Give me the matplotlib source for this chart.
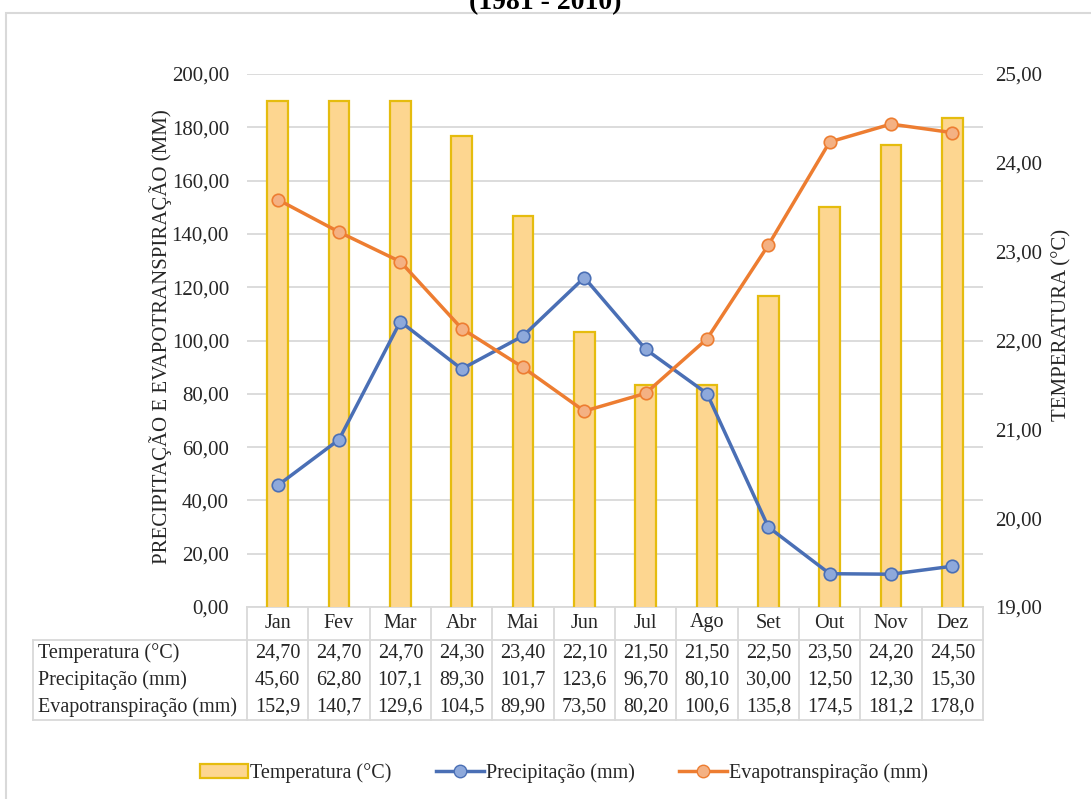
import matplotlib
matplotlib.use("Agg")
import matplotlib.pyplot as plt
from matplotlib.patches import Rectangle, Patch
from matplotlib.lines import Line2D

plt.rcParams['font.family'] = ['Liberation Serif', 'DejaVu Serif']

# data
meses = ["Jan", "Fev", "Mar", "Abr", "Mai", "Jun", "Jul", "Ago", "Set", "Out", "Nov", "Dez"]
temperatura = [24.70, 24.70, 24.70, 24.30, 23.40, 22.10, 21.50, 21.50, 22.50, 23.50, 24.20, 24.50]
precipitacao = [45.60, 62.80, 107.1, 89.30, 101.7, 123.6, 96.70, 80.10, 30.00, 12.50, 12.30, 15.30]
evapo = [152.9, 140.7, 129.6, 104.5, 89.90, 73.50, 80.20, 100.6, 135.8, 174.5, 181.2, 178.0]

left_ticks = [0, 20, 40, 60, 80, 100, 120, 140, 160, 180, 200]
right_ticks = [19, 20, 21, 22, 23, 24, 25]

c_bar = "#FDD690"
c_bar_edge = "#E5BC0E"
c_blue = "#4A6FB5"
c_blue_m = "#8EA9DB"
c_orange = "#ED7D31"
c_orange_m = "#F4B183"
c_grid = "#D9D9D9"
c_text = "#262626"


def fmt(v):
    s = f"{v:.1f}" if v >= 100 else f"{v:.2f}"
    return s.replace(".", ",")


W, H = 1091, 799
fig = plt.figure(figsize=(W / 100, H / 100), dpi=100)

# outer frame
fig.patches.append(Rectangle((6 / W, -0.05), 1.2, 1 - 13 / H + 0.05, transform=fig.transFigure,
                             fill=False, edgecolor=c_grid, lw=1.5))
fig.text(545 / W, 1 - 9 / H, "(1981 - 2010)", ha="center", va="baseline",
         fontsize=20, fontweight="bold", color="black")

top, bot = 74, 607
ah = bot - top
pos = [247 / W, 1 - bot / H, 736 / W, ah / H]
x = list(range(len(meses)))

# grid / left axis
ax = fig.add_axes(pos)
ax.set_xlim(-0.5, 11.5)
ax.set_ylim(0, 200)
ax.set_yticks(left_ticks)
ax.set_yticklabels([f"{t:.2f}".replace(".", ",") for t in left_ticks])
ax.tick_params(axis="y", length=0, pad=13, labelsize=15, labelcolor=c_text)
ax.set_xticks([])
ax.grid(axis="y", color=c_grid, lw=1.3)
ax.set_axisbelow(True)
for s in ax.spines.values():
    s.set_visible(False)
ax.set_zorder(1)

# bars (temperature)
ax2 = fig.add_axes(pos, sharex=ax)
ax2.patch.set_visible(False)
ax2.bar(x, temperatura, width=0.34, bottom=0, color=c_bar, edgecolor=c_bar_edge, lw=1.6)
ax2.set_ylim(19, 25)
ax2.yaxis.tick_right()
ax2.set_yticks(right_ticks)
ax2.set_yticklabels([f"{t:.2f}".replace(".", ",") for t in right_ticks])
ax2.tick_params(axis="y", length=0, pad=8.5, labelsize=15, labelcolor=c_text)
ax2.tick_params(axis="x", bottom=False, labelbottom=False)
for s in ax2.spines.values():
    s.set_visible(False)
ax2.set_zorder(2)

# lines
ax3 = fig.add_axes(pos, sharex=ax, sharey=ax)
ax3.patch.set_visible(False)
ax3.axis("off")
ax3.plot(x, precipitacao, color=c_blue, lw=2.5, marker="o", ms=9,
         mfc=c_blue_m, mec=c_blue, mew=1.2)
ax3.plot(x, evapo, color=c_orange, lw=2.5, marker="o", ms=9,
         mfc=c_orange_m, mec=c_orange, mew=1.2)
ax3.set_zorder(3)

# axis labels
fig.text(161 / W, 1 - 337 / H, "PRECIPITAÇÃO E EVAPOTRANSPIRAÇÃO (MM)", rotation=90,
         ha="center", va="center", fontsize=15, color=c_text)
fig.text(1062 / W, 1 - 325 / H, "TEMPERATURA (°C)", rotation=90,
         ha="center", va="center", fontsize=15, color=c_text)

# data table below the axis (positions in pixels below the axis bottom)
tr = ax.transAxes


def py(p):
    return -p / ah


y0, y1, y4 = 0.0, py(33), py(113)
xl = (33 - 247) / 736
lk = dict(transform=tr, color=c_grid, lw=1.3, clip_on=False)
ax.plot([0, 1], [y0, y0], **lk)
ax.plot([xl, 1], [y1, y1], **lk)
ax.plot([xl, 1], [y4, y4], **lk)
ax.plot([xl, xl], [y1, y4], **lk)
for k in range(len(meses) + 1):
    ax.plot([k / 12, k / 12], [y0, y4], **lk)

rows = [("Temperatura (°C)", temperatura),
        ("Precipitação (mm)", precipitacao),
        ("Evapotranspiração (mm)", evapo)]
row_y = [py(46), py(73), py(100)]
for i, m in enumerate(meses):
    ax.text((i + 0.5) / 12, py(16), m, transform=tr, ha="center", va="center",
            fontsize=14.5, color=c_text)
for (name, vals), ry in zip(rows, row_y):
    ax.text((38 - 247) / 736, ry, name, transform=tr, ha="left", va="center",
            fontsize=14.5, color=c_text)
    for i, v in enumerate(vals):
        ax.text((i + 0.5) / 12, ry, fmt(v), transform=tr, ha="center", va="center",
                fontsize=14.5, color=c_text)

# legend
handles = [Patch(facecolor=c_bar, edgecolor=c_bar_edge, lw=1.6),
           Line2D([], [], color=c_blue, lw=2.5, marker="o", ms=9, mfc=c_blue_m, mec=c_blue),
           Line2D([], [], color=c_orange, lw=2.5, marker="o", ms=9, mfc=c_orange_m, mec=c_orange)]
labels = ["Temperatura (°C)", "Precipitação (mm)", "Evapotranspiração (mm)"]
fig.legend(handles, labels, loc="center", bbox_to_anchor=(564 / W, 1 - 773 / H), ncol=3,
           frameon=False, fontsize=14.5, handlelength=2.4, handletextpad=0.1,
           columnspacing=2.2, labelcolor=c_text)

fig.savefig("out.png", dpi=100)
